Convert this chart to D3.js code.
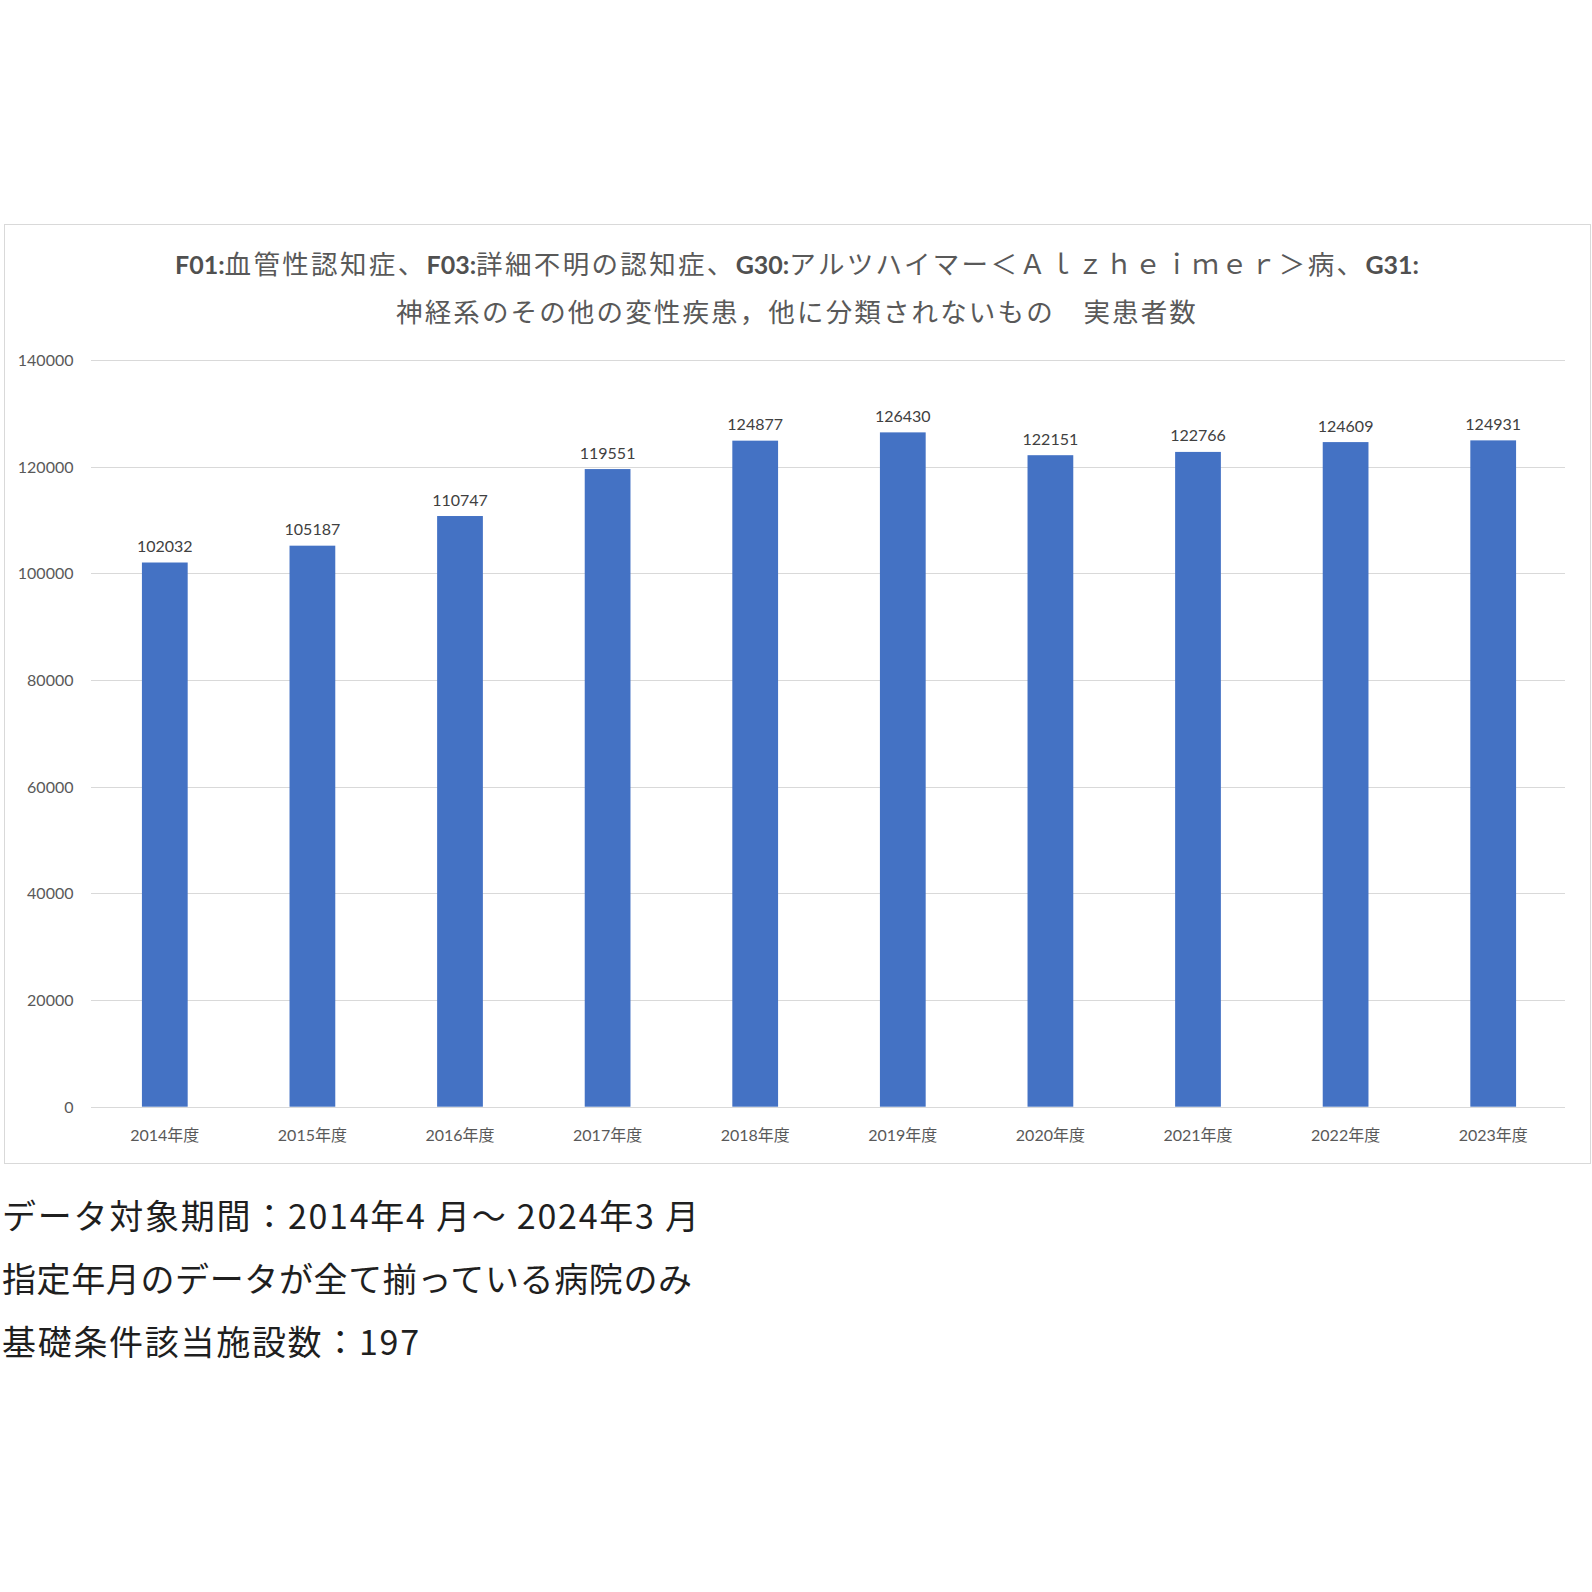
<!DOCTYPE html>
<html>
<head>
<meta charset="utf-8">
<script src="https://cdn.jsdelivr.net/npm/d3@7"></script>
<style>
  html, body { margin: 0; padding: 0; background: #fff; }
  svg { display: block; }
</style>
</head>
<body>
<script>
// ---- data ----
const categories = ["2014年度","2015年度","2016年度","2017年度","2018年度","2019年度","2020年度","2021年度","2022年度","2023年度"];
const patients = [102032, 105187, 110747, 119551, 124877, 126430, 122151, 122766, 124609, 124931];
const yTicks = [0, 20000, 40000, 60000, 80000, 100000, 120000, 140000];
const titleLine1 = [
  ["F01:", true], ["血管性認知症、", false],
  ["F03:", true], ["詳細不明の認知症、", false],
  ["G30:", true], ["アルツハイマー＜Ａｌｚｈｅｉｍｅｒ＞病、", false],
  ["G31:", true]
];
const titleLine2 = "神経系のその他の変性疾患，他に分類されないもの　実患者数";
const footerLines = [
  "データ対象期間：2014年4 月～ 2024年3 月",
  "指定年月のデータが全て揃っている病院のみ",
  "基礎条件該当施設数：197"
];

// ---- layout ----
const W = 1592, H = 1592;
const plot = { left: 91, right: 1567, top: 360, bottom: 1106.7 };
const latin = "Lato, 'Noto Sans CJK JP', sans-serif";
const cjk = "'Noto Sans CJK JP', sans-serif";

const svg = d3.select("body").append("svg").attr("width", W).attr("height", H);

// chart frame
svg.append("rect")
  .attr("x", 4.5).attr("y", 224.5).attr("width", 1586).attr("height", 939)
  .attr("fill", "#fff").attr("stroke", "#d9d9d9").attr("stroke-width", 1);

const x = d3.scaleBand().domain(categories).range([plot.left, plot.right])
  .paddingInner(0.69).paddingOuter(0.345);
const y = d3.scaleLinear().domain([0, 140000]).range([plot.bottom, plot.top]);

// gridlines
svg.append("g").selectAll("line").data(yTicks).join("line")
  .attr("x1", plot.left).attr("x2", 1565)
  .attr("y1", d => Math.round(y(d)) + 0.5).attr("y2", d => Math.round(y(d)) + 0.5)
  .attr("stroke", "#d9d9d9").attr("stroke-width", 1);

// y axis labels
const yAxis = d3.axisLeft(y).tickValues(yTicks).tickSize(0).tickPadding(0).tickFormat(d3.format("d"));
const gy = svg.append("g").attr("transform", `translate(73.5,0)`).call(yAxis);
gy.select(".domain").remove();
gy.selectAll("text").attr("font-family", latin).attr("font-size", 16)
  .attr("fill", "#595959").attr("dy", "0.35em");

// bars
svg.append("g").selectAll("rect").data(patients).join("rect")
  .attr("x", (d, i) => x(categories[i]))
  .attr("width", x.bandwidth())
  .attr("y", d => y(d))
  .attr("height", d => y(0) - y(d))
  .attr("fill", "#4472C4");

// data labels
svg.append("g").selectAll("text").data(patients).join("text")
  .attr("x", (d, i) => x(categories[i]) + x.bandwidth() / 2)
  .attr("y", d => y(d) - 10.5)
  .attr("text-anchor", "middle")
  .attr("font-family", latin).attr("font-size", 16).attr("fill", "#404040")
  .text(d => d);

// x axis labels
const xAxis = d3.axisBottom(x).tickSize(0).tickPadding(0);
const gx = svg.append("g").attr("transform", `translate(0,1141)`).call(xAxis);
gx.select(".domain").remove();
gx.selectAll("text").attr("font-family", latin).attr("font-size", 16)
  .attr("fill", "#595959").attr("dy", 0).attr("y", 0);

// title line 1: spacing only on the Japanese runs
const t1 = svg.append("text")
  .attr("x", 797).attr("y", 274).attr("text-anchor", "middle")
  .attr("font-size", 26.5);
const cjkSpans = [];
let nCjk = 0;
titleLine1.forEach(([s, isLatin]) => {
  const sp = t1.append("tspan").text(s)
    .attr("font-family", isLatin ? latin : cjk)
    .attr("font-weight", isLatin ? 700 : 400)
    .attr("font-size", isLatin ? 25 : 26.5)
    .attr("fill", isLatin ? "#505050" : "#595959");
  if (!isLatin) { cjkSpans.push(sp); nCjk += s.length; }
});
const L0 = t1.node().getComputedTextLength();
const sp1 = Math.max(0, (1244 - L0) / nCjk);
cjkSpans.forEach(sp => sp.attr("letter-spacing", sp1));

// title line 2
const t2 = svg.append("text")
  .attr("x", 797).attr("y", 322).attr("text-anchor", "middle")
  .attr("font-family", cjk).attr("font-size", 26.5).attr("fill", "#595959")
  .text(titleLine2);
const L2 = t2.node().getComputedTextLength();
t2.attr("letter-spacing", Math.max(0, (802 - L2) / titleLine2.length));

// footer
const footerY = [1229, 1292, 1355];
const footerLen = [697, 690, 417];
svg.append("g").selectAll("text").data(footerLines).join("text")
  .attr("x", 2).attr("y", (d, i) => footerY[i])
  .attr("font-family", cjk).attr("font-size", 34).attr("fill", "#1f1f1f")
  .attr("textLength", (d, i) => footerLen[i]).attr("lengthAdjust", "spacing")
  .text(d => d);
</script>
</body>
</html>
